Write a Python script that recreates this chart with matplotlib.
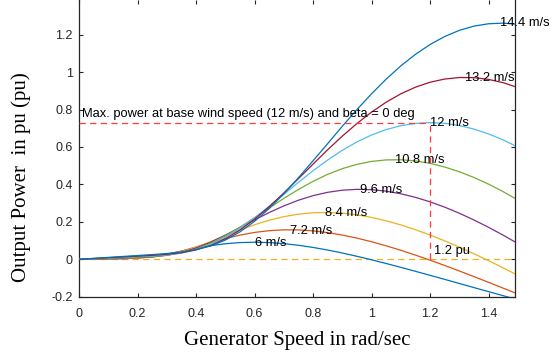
import matplotlib
matplotlib.use("Agg")
import matplotlib.pyplot as plt

# Generator speed (rad/sec, pu) sample points
speed = [0.0, 0.05, 0.1, 0.15, 0.2, 0.25, 0.3, 0.35, 0.4, 0.45, 0.5, 0.55, 0.6, 0.65, 0.7, 0.75,
         0.8, 0.85, 0.9, 0.95, 1.0, 1.05, 1.1, 1.15, 1.2, 1.25, 1.3, 1.35, 1.4, 1.45, 1.5]

# Output power (pu) per wind speed
p_6_0 = [0.0, 0.0009, 0.0018, 0.0029, 0.0064, 0.0147, 0.0277, 0.0434, 0.0592, 0.0728, 0.0830,
         0.0892, 0.0913, 0.0893, 0.0837, 0.0749, 0.0633, 0.0494, 0.0335, 0.0160, -0.0028,
         -0.0226, -0.0431, -0.0643, -0.0857, -0.1074, -0.1293, -0.1512, -0.1730, -0.1946, -0.2161]
p_7_2 = [0.0, 0.0013, 0.0025, 0.0039, 0.0065, 0.0128, 0.0254, 0.0437, 0.0658, 0.0889, 0.1105,
         0.1292, 0.1435, 0.1529, 0.1573, 0.1569, 0.1518, 0.1425, 0.1294, 0.1131, 0.0937,
         0.0719, 0.0480, 0.0223, -0.0049, -0.0332, -0.0625, -0.0927, -0.1233, -0.1544, -0.1857]
p_8_4 = [0.0, 0.0017, 0.0034, 0.0052, 0.0074, 0.0122, 0.0225, 0.0403, 0.0649, 0.0942, 0.1253,
         0.1564, 0.1846, 0.2088, 0.2278, 0.2411, 0.2486, 0.2503, 0.2465, 0.2374, 0.2236,
         0.2055, 0.1835, 0.1580, 0.1295, 0.0983, 0.0649, 0.0294, -0.0077, -0.0462, -0.0859]
p_9_6 = [0.0, 0.0022, 0.0045, 0.0067, 0.0091, 0.0130, 0.0211, 0.0364, 0.0601, 0.0917, 0.1291,
         0.1695, 0.2106, 0.2498, 0.2852, 0.3156, 0.3400, 0.3579, 0.3691, 0.3737, 0.3718,
         0.3638, 0.3499, 0.3308, 0.3068, 0.2784, 0.2459, 0.2098, 0.1705, 0.1285, 0.0839]
p_10_8 = [0.0, 0.0028, 0.0057, 0.0085, 0.0114, 0.0150, 0.0220, 0.0339, 0.0549, 0.0856, 0.1252,
          0.1714, 0.2221, 0.2739, 0.3253, 0.3731, 0.4164, 0.4538, 0.4842, 0.5072, 0.5229,
          0.5309, 0.5317, 0.5253, 0.5122, 0.4928, 0.4675, 0.4368, 0.4011, 0.3609, 0.3164]
p_12_0 = [0.0, 0.0035, 0.0070, 0.0105, 0.0140, 0.0178, 0.0234, 0.0335, 0.0513, 0.0789, 0.1174,
          0.1658, 0.2219, 0.2833, 0.3470, 0.4114, 0.4733, 0.5305, 0.5822, 0.6270, 0.6641,
          0.6930, 0.7137, 0.7260, 0.7303, 0.7262, 0.7146, 0.6955, 0.6696, 0.6374, 0.5992]
p_13_2 = [0.0, 0.0042, 0.0085, 0.0127, 0.0169, 0.0213, 0.0267, 0.0352, 0.0501, 0.0739, 0.1091,
          0.1563, 0.2139, 0.2810, 0.3543, 0.4310, 0.5087, 0.5856, 0.6581, 0.7255, 0.7864,
          0.8394, 0.8840, 0.9194, 0.9459, 0.9629, 0.9710, 0.9702, 0.9607, 0.9431, 0.9170]
p_14_4 = [0.0, 0.0050, 0.0101, 0.0151, 0.0201, 0.0252, 0.0308, 0.0385, 0.0520, 0.0712, 0.1025,
          0.1464, 0.2029, 0.2717, 0.3498, 0.4357, 0.5264, 0.6181, 0.7109, 0.8002, 0.8843,
          0.9626, 1.0333, 1.0950, 1.1476, 1.1902, 1.2230, 1.2456, 1.2582, 1.2614, 1.2548]

series = [p_6_0, p_7_2, p_8_4, p_9_6, p_10_8, p_12_0, p_13_2, p_14_4]
labels = ["6 m/s", "7.2 m/s", "8.4 m/s", "9.6 m/s", "10.8 m/s", "12 m/s", "13.2 m/s", "14.4 m/s"]
# label anchor (peak) positions
label_x = [0.60, 0.72, 0.84, 0.96, 1.08, 1.20, 1.32, 1.44]
label_y = [0.089, 0.153, 0.246, 0.370, 0.530, 0.726, 0.967, 1.260]
colors = ["#0072BD", "#D95319", "#EDB120", "#7E2F8E", "#77AC30", "#4DBEEE", "#A2142F", "#0072BD"]

base_speed = 1.2
max_power = 0.73

x_ticks = [0, 0.2, 0.4, 0.6, 0.8, 1.0, 1.2, 1.4]
x_tick_labels = ["0", "0.2", "0.4", "0.6", "0.8", "1", "1.2", "1.4"]
y_ticks = [-0.2, 0, 0.2, 0.4, 0.6, 0.8, 1.0, 1.2]
y_tick_labels = ["-0.2", "0", "0.2", "0.4", "0.6", "0.8", "1", "1.2"]

fig = plt.figure(figsize=(5.6, 3.57), dpi=100)
ax = fig.add_axes([79 / 560, (357 - 297.3) / 357, (515 - 79) / 560, 297.3 / 357])

for ys, c in zip(series, colors):
    ax.plot(speed, ys, color=c, lw=0.9, zorder=3)

ax.axhline(0, color="#EDB120", lw=0.9, dashes=(5, 3.5), zorder=2)
ax.plot([0, base_speed], [max_power, max_power], color="#FF3B3B", lw=0.9, dashes=(5, 3.5), zorder=4)
ax.plot([base_speed, base_speed], [0, max_power], color="#FF3B3B", lw=0.9, dashes=(5, 3.5), zorder=4)

tfont = dict(family="Liberation Sans", fontsize=9.3, color="black")
for lx, ly, lab in zip(label_x, label_y, labels):
    ax.text(lx, ly, lab, ha="left", va="center", zorder=5, clip_on=False, **tfont)
ax.text(0.01, 0.775, "Max. power at base wind speed (12 m/s) and beta = 0 deg",
        ha="left", va="center", **tfont)
ax.text(1.212, 0.046, "1.2 pu", ha="left", va="center", **tfont)

ax.set_xlim(0, 1.49)
ax.set_ylim(-0.203, 1.385)
ax.set_xticks(x_ticks)
ax.set_xticklabels(x_tick_labels)
ax.set_yticks(y_ticks)
ax.set_yticklabels(y_tick_labels)

spine_c = "#262626"
for s in ["left", "right", "bottom"]:
    ax.spines[s].set_color(spine_c)
    ax.spines[s].set_linewidth(0.9)
ax.spines["top"].set_visible(False)
ax.tick_params(direction="in", length=3, width=0.8, color=spine_c,
               top=True, right=True, labelsize=9, labelcolor=spine_c)
ax.tick_params(axis="x", pad=7.5)
ax.tick_params(axis="y", pad=4.5)
for lab in ax.get_xticklabels() + ax.get_yticklabels():
    lab.set_family("Liberation Sans")

fig.text(297 / 560, 1 - 340 / 357, "Generator Speed in rad/sec", family="Liberation Serif",
         fontsize=15, ha="center", va="center")
fig.text(21 / 560, 1 - 177 / 357, "Output Power  in pu (pu)", family="Liberation Serif",
         fontsize=15, rotation=90, ha="center", va="center")

fig.savefig("out.png", dpi=100)
